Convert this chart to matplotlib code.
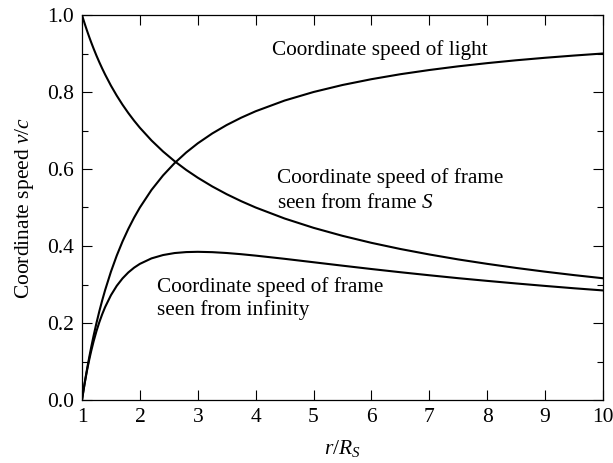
import matplotlib
matplotlib.use("Agg")
import matplotlib.pyplot as plt
from matplotlib.ticker import MultipleLocator, FormatStrFormatter

plt.rcParams['font.family'] = ['Liberation Serif', 'DejaVu Serif']
plt.rcParams['mathtext.fontset'] = 'custom'
plt.rcParams['mathtext.rm'] = 'Liberation Serif'
plt.rcParams['mathtext.it'] = 'Liberation Serif:italic'

# data (radius in units of R_S)
r = [1, 1.01, 1.02, 1.04, 1.06, 1.08, 1.1, 1.13, 1.16, 1.2, 1.25, 1.3, 1.35, 1.4,
     1.5, 1.6, 1.7, 1.8, 1.9, 2.0, 2.2, 2.4, 2.6, 2.8, 3.0, 3.25, 3.5, 3.75, 4,
     4.5, 5, 5.5, 6, 6.5, 7, 7.5, 8, 8.5, 9, 9.5, 10]
speed_light = [0, 0.0099, 0.0196, 0.0385, 0.0566, 0.0741, 0.0909, 0.1150, 0.1379,
               0.1667, 0.2, 0.2308, 0.2593, 0.2857, 0.3333, 0.375, 0.4118, 0.4444,
               0.4737, 0.5, 0.5455, 0.5833, 0.6154, 0.6429, 0.6667, 0.6923, 0.7143,
               0.7333, 0.75, 0.7778, 0.8, 0.8182, 0.8333, 0.8462, 0.8571, 0.8667,
               0.875, 0.8824, 0.8889, 0.8947, 0.9]
speed_frame_S = [1, 0.9950, 0.9901, 0.9806, 0.9713, 0.9623, 0.9535, 0.9407, 0.9285,
                 0.9129, 0.8944, 0.8771, 0.8607, 0.8452, 0.8165, 0.7906, 0.7670,
                 0.7454, 0.7255, 0.7071, 0.6742, 0.6455, 0.6202, 0.5976, 0.5774,
                 0.5547, 0.5345, 0.5164, 0.5, 0.4714, 0.4472, 0.4264, 0.4082, 0.3922,
                 0.3780, 0.3651, 0.3536, 0.3430, 0.3333, 0.3244, 0.3162]
speed_frame_inf = [0, 0.0099, 0.0194, 0.0377, 0.0550, 0.0713, 0.0867, 0.1082, 0.1280,
                   0.1521, 0.1789, 0.2024, 0.2232, 0.2415, 0.2722, 0.2965, 0.3158,
                   0.3313, 0.3437, 0.3536, 0.3678, 0.3765, 0.3817, 0.3842, 0.3849,
                   0.3840, 0.3818, 0.3787, 0.375, 0.3667, 0.3578, 0.3489, 0.3402,
                   0.3319, 0.3240, 0.3164, 0.3094, 0.3027, 0.2963, 0.2902, 0.2846]

labels_light = ["Coordinate speed of light"]
labels_S = ["Coordinate speed of frame", "seen from frame $S$"]
labels_inf = ["Coordinate speed of frame", "seen from infinity"]

fig = plt.figure(figsize=(6.13, 4.63), dpi=100)
ax = fig.add_axes([82/613, 63/463, 521/613, 385/463])

lw = 1.5
ax.plot(r, speed_light, color='black', lw=lw)
ax.plot(r, speed_frame_S, color='black', lw=lw)
ax.plot(r, speed_frame_inf, color='black', lw=lw)

ax.set_xlim(1, 10)
ax.set_ylim(0, 1)
ax.xaxis.set_major_locator(MultipleLocator(1))
ax.yaxis.set_major_locator(MultipleLocator(0.2))
ax.yaxis.set_minor_locator(MultipleLocator(0.1))
ax.yaxis.set_major_formatter(FormatStrFormatter('%.1f'))
ax.tick_params(which='both', direction='in', top=True, right=True, labelsize=15.5, width=0.8)
ax.tick_params(which='major', length=7.2, pad=6)
ax.tick_params(which='minor', length=4)
for s in ax.spines.values():
    s.set_linewidth(0.9)

ax.set_xlabel("$r/R_S$", fontsize=15.5, labelpad=8)
ax.set_ylabel("Coordinate speed $v/c$", fontsize=15.5, labelpad=8)

fs = 15.3
ax.text(4.28, 0.896, labels_light[0], fontsize=fs, va='baseline', ha='left')
ax.text(4.37, 0.564, labels_S[0], fontsize=fs, va='baseline', ha='left')
ax.text(4.37, 0.499, labels_S[1], fontsize=fs, va='baseline', ha='left')
ax.text(2.30, 0.281, labels_inf[0], fontsize=fs, va='baseline', ha='left')
ax.text(2.30, 0.221, labels_inf[1], fontsize=fs, va='baseline', ha='left')

fig.savefig("out.png", dpi=100)
